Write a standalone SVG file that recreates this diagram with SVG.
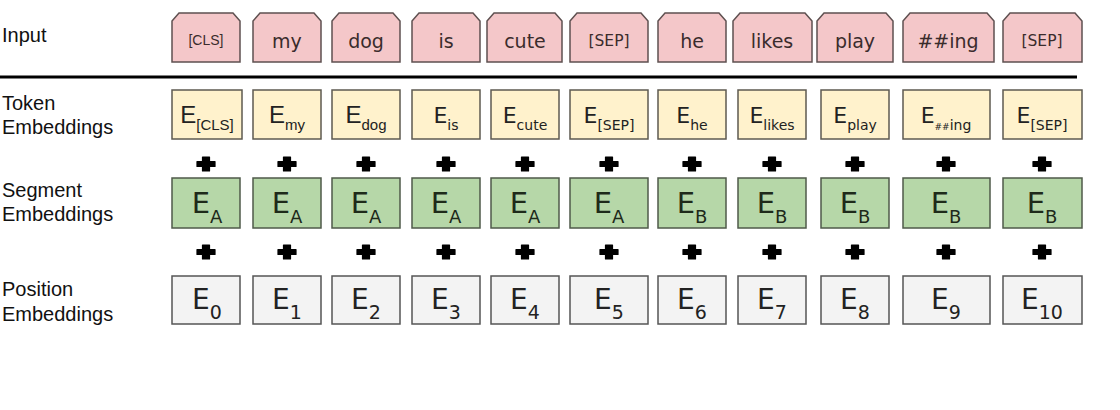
<svg xmlns="http://www.w3.org/2000/svg" width="1120" height="410" viewBox="0 0 1120 410">
<style>
.lbl{font-family:"Liberation Sans",Arial,sans-serif;font-size:20px;fill:#111}
.inp{fill:#f4c7c9;stroke:#5e5050;stroke-width:1.5}
.tok{fill:#fff2cc;stroke:#5e5a50;stroke-width:1.5}
.seg{fill:#b6d7a8;stroke:#4f5a4a;stroke-width:1.5}
.pos{fill:#f3f3f3;stroke:#555;stroke-width:1.5}
.it{font-family:"DejaVu Sans",Verdana,sans-serif;font-size:19px;fill:#3a2c2c;text-anchor:middle}
.its{font-family:"Liberation Sans",Arial,sans-serif;font-size:14px;fill:#3a2c2c;text-anchor:middle}
.itm{font-family:"DejaVu Sans",Verdana,sans-serif;font-size:15.5px;fill:#3a2c2c;text-anchor:middle}
.te{font-family:"DejaVu Sans",Verdana,sans-serif;font-size:22px;fill:#222;text-anchor:middle}
.tea{font-family:"Liberation Sans",Arial,sans-serif;font-size:24px;fill:#222;text-anchor:middle}
.se{font-family:"DejaVu Sans",Verdana,sans-serif;font-size:29px;fill:#1e2a1a;text-anchor:middle}
.pe{font-family:"DejaVu Sans",Verdana,sans-serif;font-size:28px;fill:#222;text-anchor:middle}
.plus{fill:#000;stroke:#000;stroke-width:1.2;stroke-linejoin:round}
</style>
<defs>
<path id="plus" d="M-3.5,-7 h7 v4.5 h5.5 v5 h-5.5 v4.5 h-7 v-4.5 h-5.5 v-5 h5.5 z"/>
</defs>
<rect width="1120" height="410" fill="#fff"/>

<g id="labels">
<text class="lbl" x="2" y="42">Input</text>
<text class="lbl" x="2" y="110">Token</text>
<text class="lbl" x="2" y="134">Embeddings</text>
<text class="lbl" x="2" y="197">Segment</text>
<text class="lbl" x="2" y="221">Embeddings</text>
<text class="lbl" x="2" y="296">Position</text>
<text class="lbl" x="2" y="321">Embeddings</text>
</g>

<g id="connectors">
<line x1="0" y1="77" x2="1077" y2="77" stroke="#000" stroke-width="3"/>
<g class="plus">
<use href="#plus" x="206" y="164"/><use href="#plus" x="287" y="164"/><use href="#plus" x="366" y="164"/><use href="#plus" x="446" y="164"/><use href="#plus" x="525" y="164"/><use href="#plus" x="609" y="164"/><use href="#plus" x="692" y="164"/><use href="#plus" x="772" y="164"/><use href="#plus" x="855" y="164"/><use href="#plus" x="946" y="164"/><use href="#plus" x="1042" y="164"/>
<use href="#plus" x="206" y="252"/><use href="#plus" x="287" y="252"/><use href="#plus" x="366" y="252"/><use href="#plus" x="446" y="252"/><use href="#plus" x="525" y="252"/><use href="#plus" x="609" y="252"/><use href="#plus" x="692" y="252"/><use href="#plus" x="772" y="252"/><use href="#plus" x="855" y="252"/><use href="#plus" x="946" y="252"/><use href="#plus" x="1042" y="252"/>
</g>
</g>

<g id="input-row">
<g id="in-cls"><path class="inp" d="M172,62 V21 L179,13 H233 L240,21 V62 Z"/><text class="its" x="206" y="45">[CLS]</text></g>
<g id="in-my"><path class="inp" d="M253,62 V21 L260,13 H314 L321,21 V62 Z"/><text class="it" x="287" y="48">my</text></g>
<g id="in-dog"><path class="inp" d="M332,62 V21 L339,13 H393 L400,21 V62 Z"/><text class="it" x="366" y="48">dog</text></g>
<g id="in-is"><path class="inp" d="M412,62 V21 L419,13 H473 L480,21 V62 Z"/><text class="it" x="446" y="48">is</text></g>
<g id="in-cute"><path class="inp" d="M487,62 V21 L494,13 H555 L562,21 V62 Z"/><text class="it" x="525" y="48">cute</text></g>
<g id="in-sep1"><path class="inp" d="M570,62 V21 L577,13 H641 L648,21 V62 Z"/><text class="itm" x="609" y="46">[SEP]</text></g>
<g id="in-he"><path class="inp" d="M658,62 V21 L665,13 H719 L726,21 V62 Z"/><text class="it" x="692" y="48">he</text></g>
<g id="in-likes"><path class="inp" d="M733,62 V21 L740,13 H805 L812,21 V62 Z"/><text class="it" x="772" y="48">likes</text></g>
<g id="in-play"><path class="inp" d="M817,62 V21 L824,13 H886 L893,21 V62 Z"/><text class="it" x="855" y="48">play</text></g>
<g id="in-ing"><path class="inp" d="M903,62 V21 L910,13 H987 L994,21 V62 Z"/><text class="it" x="948" y="48">##ing</text></g>
<g id="in-sep2"><path class="inp" d="M1003,62 V21 L1010,13 H1075 L1082,21 V62 Z"/><text class="itm" x="1042" y="46">[SEP]</text></g>
</g>

<g id="token-row">
<g id="tok-cls"><rect class="tok" x="172" y="90" width="70" height="49"/><text class="tea" x="207" y="123">E<tspan font-size="15" dy="7">[CLS]</tspan></text></g>
<g id="tok-my"><rect class="tok" x="253" y="90" width="68" height="49"/><text class="tea" x="287" y="123">E<tspan font-size="15" dy="7">my</tspan></text></g>
<g id="tok-dog"><rect class="tok" x="332" y="90" width="68" height="49"/><text class="tea" x="366" y="123">E<tspan font-size="15" dy="7">dog</tspan></text></g>
<g id="tok-is"><rect class="tok" x="412" y="90" width="68" height="49"/><text class="te" x="446" y="123">E<tspan font-size="14" dy="7">is</tspan></text></g>
<g id="tok-cute"><rect class="tok" x="491" y="90" width="68" height="49"/><text class="te" x="525" y="123">E<tspan font-size="14" dy="7">cute</tspan></text></g>
<g id="tok-sep1"><rect class="tok" x="570" y="90" width="78" height="49"/><text class="te" x="609" y="123">E<tspan font-size="14" dy="7">[SEP]</tspan></text></g>
<g id="tok-he"><rect class="tok" x="658" y="90" width="68" height="49"/><text class="te" x="692" y="123">E<tspan font-size="14" dy="7">he</tspan></text></g>
<g id="tok-likes"><rect class="tok" x="738" y="90" width="68" height="49"/><text class="te" x="772" y="123">E<tspan font-size="14" dy="7">likes</tspan></text></g>
<g id="tok-play"><rect class="tok" x="821" y="90" width="68" height="49"/><text class="te" x="855" y="123">E<tspan font-size="14" dy="7">play</tspan></text></g>
<g id="tok-ing"><rect class="tok" x="903" y="90" width="87" height="49"/><text class="te" x="946" y="123">E<tspan font-size="9" dy="7">##</tspan><tspan font-size="14">ing</tspan></text></g>
<g id="tok-sep2"><rect class="tok" x="1003" y="90" width="79" height="49"/><text class="te" x="1042" y="123">E<tspan font-size="14" dy="7">[SEP]</tspan></text></g>
</g>

<g id="segment-row">
<g id="seg-0"><rect class="seg" x="172" y="178" width="68" height="50"/><text class="se" x="207" y="213">E<tspan font-size="18" dy="10">A</tspan></text></g>
<g id="seg-1"><rect class="seg" x="253" y="178" width="68" height="50"/><text class="se" x="287" y="213">E<tspan font-size="18" dy="10">A</tspan></text></g>
<g id="seg-2"><rect class="seg" x="332" y="178" width="68" height="50"/><text class="se" x="366" y="213">E<tspan font-size="18" dy="10">A</tspan></text></g>
<g id="seg-3"><rect class="seg" x="412" y="178" width="68" height="50"/><text class="se" x="446" y="213">E<tspan font-size="18" dy="10">A</tspan></text></g>
<g id="seg-4"><rect class="seg" x="491" y="178" width="68" height="50"/><text class="se" x="525" y="213">E<tspan font-size="18" dy="10">A</tspan></text></g>
<g id="seg-5"><rect class="seg" x="570" y="178" width="78" height="50"/><text class="se" x="609" y="213">E<tspan font-size="18" dy="10">A</tspan></text></g>
<g id="seg-6"><rect class="seg" x="658" y="178" width="68" height="50"/><text class="se" x="692" y="213">E<tspan font-size="18" dy="10">B</tspan></text></g>
<g id="seg-7"><rect class="seg" x="738" y="178" width="68" height="50"/><text class="se" x="772" y="213">E<tspan font-size="18" dy="10">B</tspan></text></g>
<g id="seg-8"><rect class="seg" x="821" y="178" width="68" height="50"/><text class="se" x="855" y="213">E<tspan font-size="18" dy="10">B</tspan></text></g>
<g id="seg-9"><rect class="seg" x="903" y="178" width="87" height="50"/><text class="se" x="946" y="213">E<tspan font-size="18" dy="10">B</tspan></text></g>
<g id="seg-10"><rect class="seg" x="1003" y="178" width="79" height="50"/><text class="se" x="1042" y="213">E<tspan font-size="18" dy="10">B</tspan></text></g>
</g>

<g id="position-row">
<g id="pos-0"><rect class="pos" x="172" y="276" width="68" height="48"/><text class="pe" x="207" y="309">E<tspan font-size="19" dy="10">0</tspan></text></g>
<g id="pos-1"><rect class="pos" x="253" y="276" width="68" height="48"/><text class="pe" x="287" y="309">E<tspan font-size="19" dy="10">1</tspan></text></g>
<g id="pos-2"><rect class="pos" x="332" y="276" width="68" height="48"/><text class="pe" x="366" y="309">E<tspan font-size="19" dy="10">2</tspan></text></g>
<g id="pos-3"><rect class="pos" x="412" y="276" width="68" height="48"/><text class="pe" x="446" y="309">E<tspan font-size="19" dy="10">3</tspan></text></g>
<g id="pos-4"><rect class="pos" x="491" y="276" width="68" height="48"/><text class="pe" x="525" y="309">E<tspan font-size="19" dy="10">4</tspan></text></g>
<g id="pos-5"><rect class="pos" x="570" y="276" width="78" height="48"/><text class="pe" x="609" y="309">E<tspan font-size="19" dy="10">5</tspan></text></g>
<g id="pos-6"><rect class="pos" x="658" y="276" width="68" height="48"/><text class="pe" x="692" y="309">E<tspan font-size="19" dy="10">6</tspan></text></g>
<g id="pos-7"><rect class="pos" x="738" y="276" width="68" height="48"/><text class="pe" x="772" y="309">E<tspan font-size="19" dy="10">7</tspan></text></g>
<g id="pos-8"><rect class="pos" x="821" y="276" width="68" height="48"/><text class="pe" x="855" y="309">E<tspan font-size="19" dy="10">8</tspan></text></g>
<g id="pos-9"><rect class="pos" x="903" y="276" width="87" height="48"/><text class="pe" x="946" y="309">E<tspan font-size="19" dy="10">9</tspan></text></g>
<g id="pos-10"><rect class="pos" x="1003" y="276" width="79" height="48"/><text class="pe" x="1042" y="309">E<tspan font-size="19" dy="10">10</tspan></text></g>
</g>
</svg>
